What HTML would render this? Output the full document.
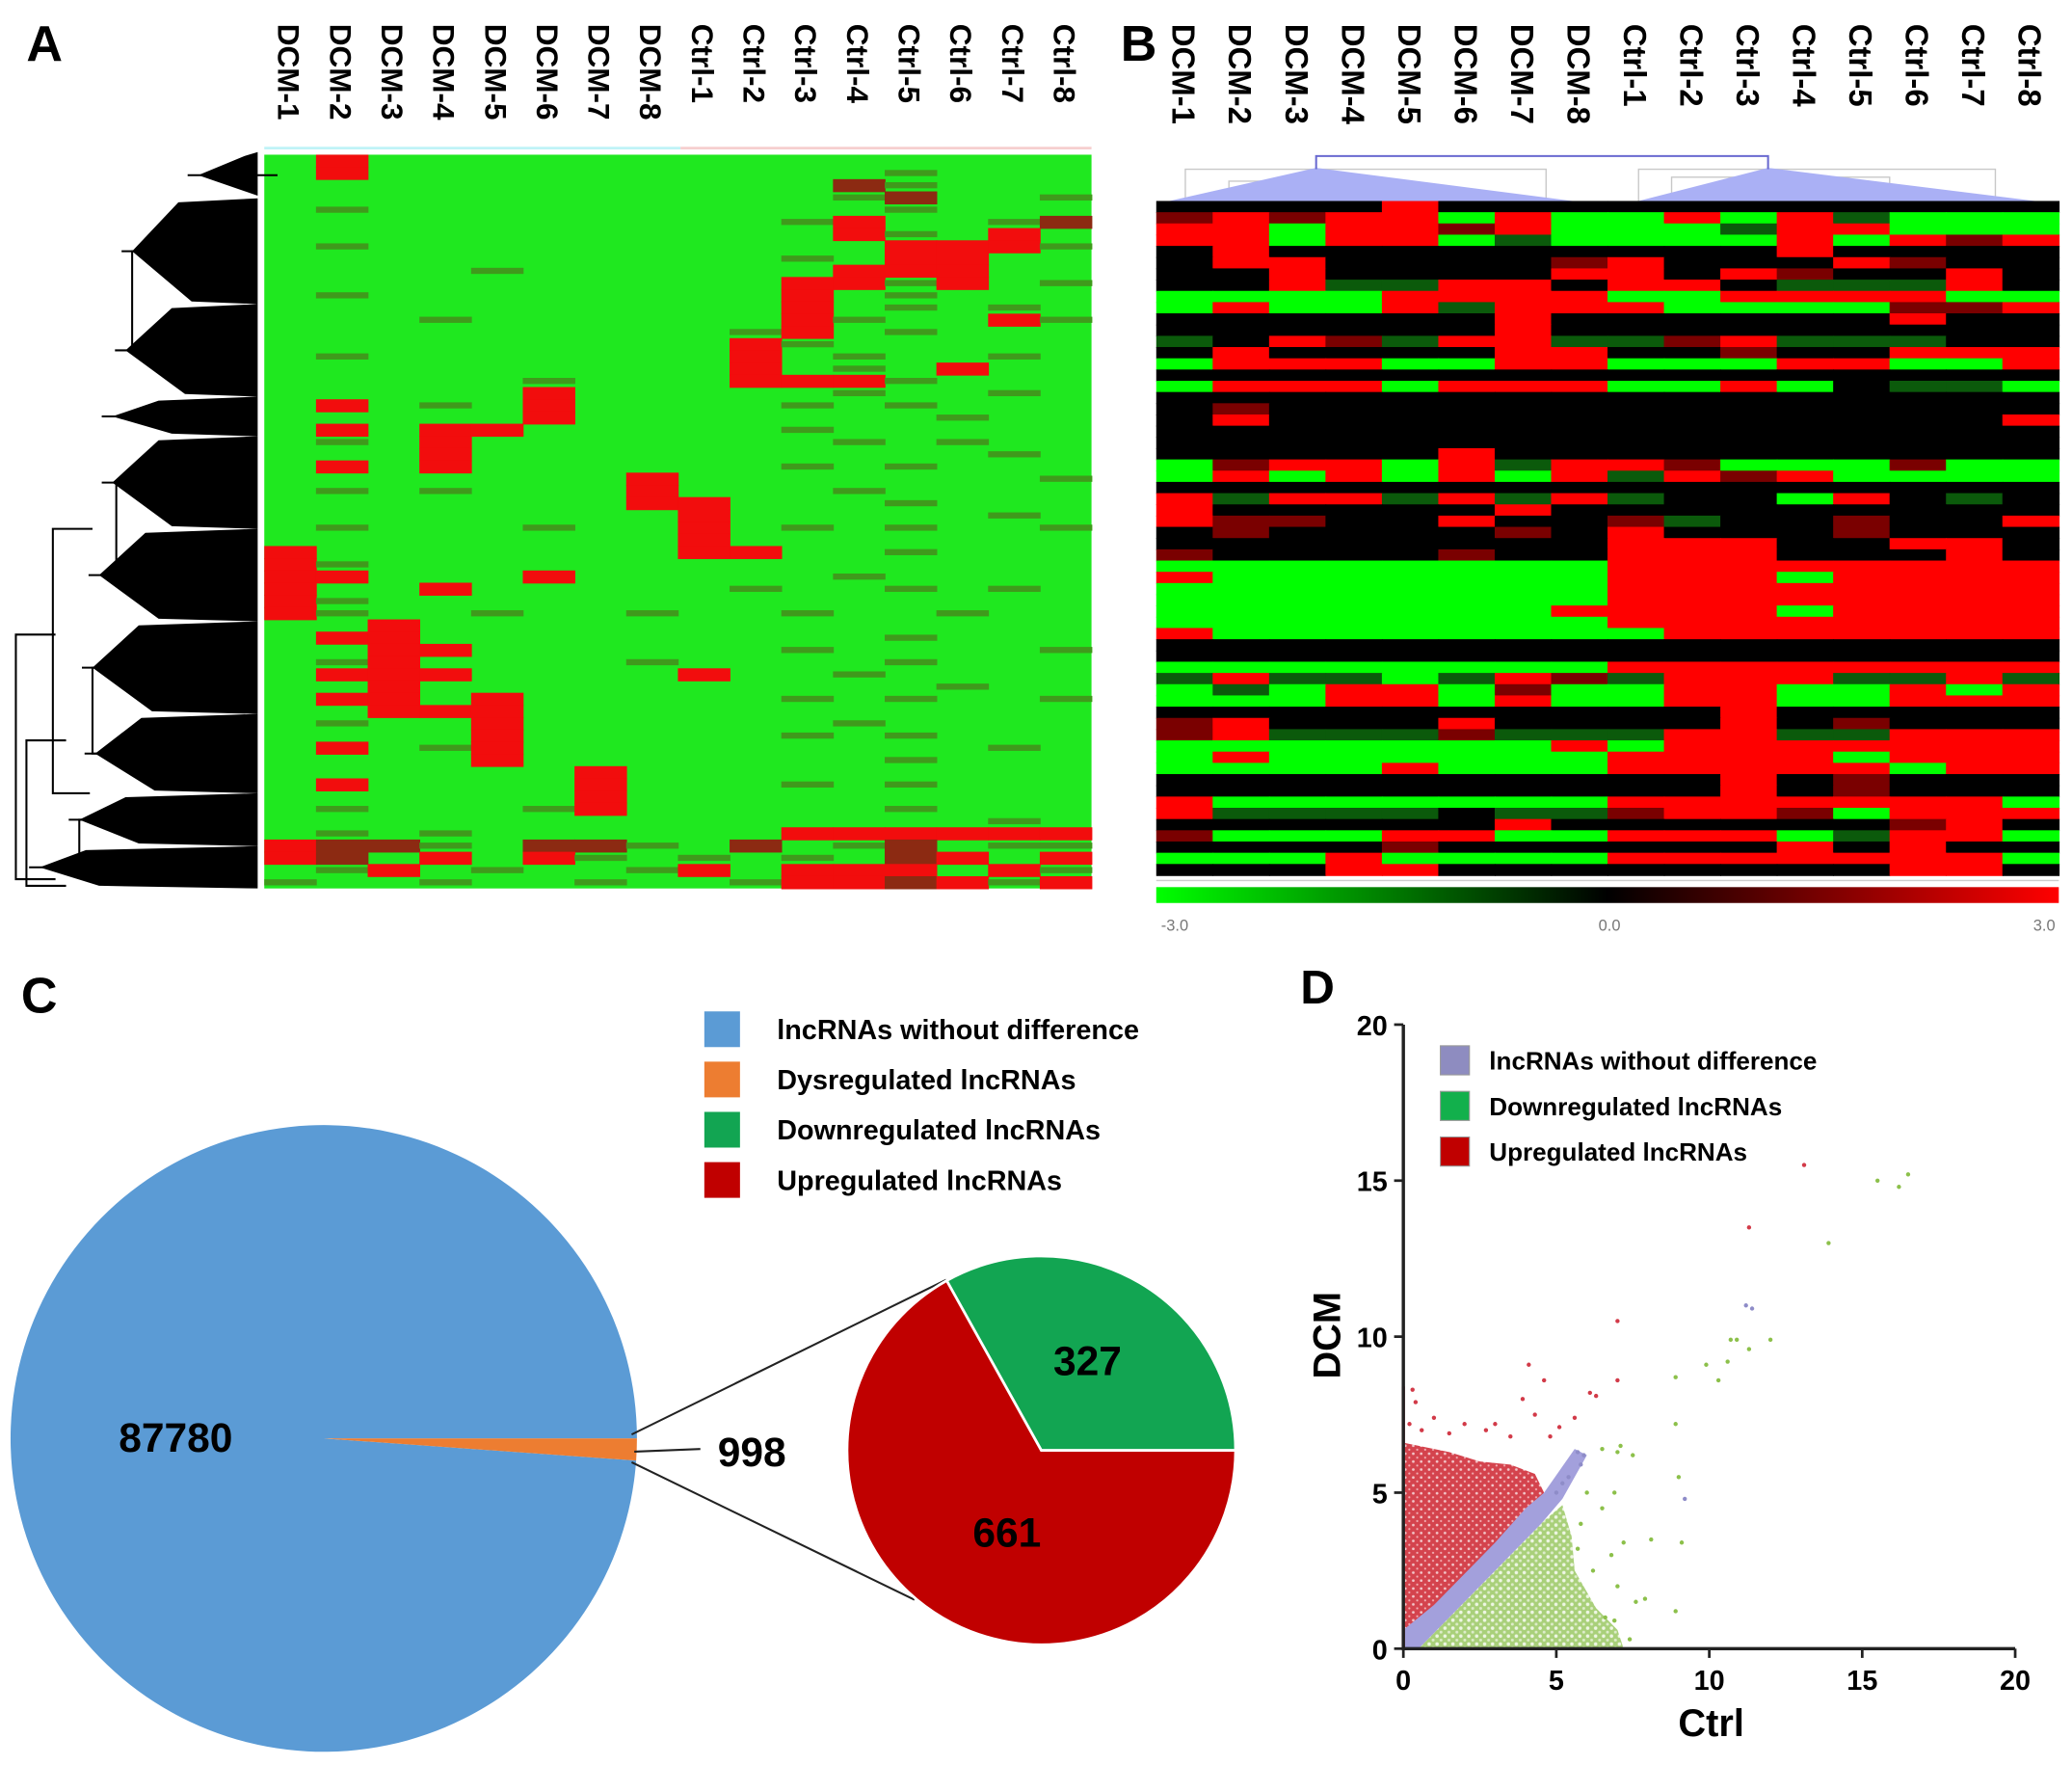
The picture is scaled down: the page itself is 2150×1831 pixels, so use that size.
<!DOCTYPE html>
<html><head><meta charset="utf-8">
<style>
html,body{margin:0;padding:0;background:#fff;}
svg{display:block;}
text{font-family:"Liberation Sans",Arial,sans-serif;}
.n{font-family:"Liberation Sans Narrow","Liberation Sans",sans-serif;font-weight:bold;}
</style></head>
<body>
<svg id="fig" xmlns="http://www.w3.org/2000/svg" width="2150" height="1831" viewBox="0 0 1568 1335" preserveAspectRatio="none">
<defs>
<linearGradient id="cbar" x1="0" x2="1" y1="0" y2="0">
<stop offset="0" stop-color="#00ff00"/><stop offset="0.5" stop-color="#000"/><stop offset="1" stop-color="#ff0000"/>
</linearGradient>
<pattern id="redDots" width="6" height="6" patternUnits="userSpaceOnUse">
<rect width="6" height="6" fill="#d4434d"/><circle cx="1.5" cy="1.5" r="1" fill="#fff" opacity="0.7"/><circle cx="4.5" cy="4.5" r="0.8" fill="#f2b0b5"/>
</pattern>
<pattern id="greenDots" width="6" height="6" patternUnits="userSpaceOnUse">
<rect width="6" height="6" fill="#a9d07a"/><circle cx="1.5" cy="1.5" r="1.3" fill="#fff" opacity="0.8"/><circle cx="4.5" cy="4.5" r="1.1" fill="#fff" opacity="0.6"/>
</pattern>
</defs>
<g id="panelA"></g>
<g id="panelB"></g>
<g id="panelC"></g>
<g id="panelD"></g>
</svg>
<script>
const NS="http://www.w3.org/2000/svg";
function mk(tag,attrs,parent,txt){const e=document.createElementNS(NS,tag);for(const k in attrs)e.setAttribute(k,attrs[k]);if(txt!==undefined)e.textContent=txt;parent.appendChild(e);return e;}

// ---------- data ----------
const sampleLabels=["DCM-1","DCM-2","DCM-3","DCM-4","DCM-5","DCM-6","DCM-7","DCM-8","Ctrl-1","Ctrl-2","Ctrl-3","Ctrl-4","Ctrl-5","Ctrl-6","Ctrl-7","Ctrl-8"];
const heatA=[
"GRGGGGGGGGGGGGGG","GRGGGGGGGGGGdGGG","GGGGGGGGGGGrdGGG","GGGGGGGGGGGdrGGd","GdGGGGGGGGGGdGGG",
"GGGGGGGGGGdRGGdr","GGGGGGGGGGGRdGRG","GdGGGGGGGGGGRRRd","GGGGGGGGGGdGRRGG","GGGGdGGGGGGRRRGG",
"GGGGGGGGGGRRdRGd","GdGGGGGGGGRGdGGG","GGGGGGGGGGRGdGdG","GGGdGGGGGGRdGGRd","GGGGGGGGGdRGdGGG",
"GGGGGGGGGRdGGGGG","GdGGGGGGGRGdGGdG","GGGGGGGGGRGdGRGG","GGGGGdGGGRRRdGGG","GGGGGRGGGGGdGGdG",
"GRGdGRGGGGdGdGGG","GGGGGRGGGGGGGdGG","GRGRRGGGGGdGGGGG","GdGRGGGGGGGdGdGG","GGGRGGGGGGGGGGdG",
"GRGRGGGGGGdGdGGG","GGGGGGGRGGGGGGGd","GdGdGGGRGGGdGGGG","GGGGGGGRRGGGdGGG","GGGGGGGGRGGGGGdG",
"GdGGGdGGRGdGdGGd","GGGGGGGGRGGGGGGG","RGGGGGGGRRGGdGGG","RdGGGGGGGGGGGGGG","RRGGGRGGGGGdGGGG",
"RGGRGGGGGdGGdGdG","RdGGGGGGGGGGGGGG","RdGGdGGdGGdGGdGG","GGRGGGGGGGGGGGGG","GRRGGGGGGGGGdGGG",
"GGRRGGGGGGdGGGGd","GdRGGGGdGGGGdGGG","GRRRGGGGRGGdGGGG","GGRGGGGGGGGGGdGG","GRRGRGGGGGdGdGGd",
"GGRRRGGGGGGGGGGG","GdGGRGGGGGGdGGGG","GGGGRGGGGGdGdGGG","GRGdRGGGGGGGGGdG","GGGGRGGGGGGGdGGG",
"GGGGGGRGGGGGGGGG","GRGGGGRGGGdGdGGG","GGGGGGRGGGGGGGGG","GdGGGdRGGGGGdGGG","GGGGGGGGGGGGGGdG",
"GdGdGGGGGGRRRRRR","RrrdGrrdGrGdrGdd","RrGRGRdGdGdGrRGR","GdRGdGGdRGRRRGRd","dGGdGGdGGdRRrRdR"];
const heatB=[
"KKKKRKKKKKKKKKKK","rRrRRGRGGRGRgGGG","RRGRRrRGGGgRRGGG","RRGRRGgGGGGRGRrR","KRKKKKKKKKKRKKKK",
"KRRKKKKrRKKKRrKK","KKRKKKKRRKRrKKRK","KKRggRRKRRKgggRK","GGGGRRRRGGRRRRGG","GRGGRgRRRGGGGrrR",
"KKKKKKRKKKKKKRKK","KKKKKKRKKKKKKKKK","gKRrgRRggrRgggKK","KRKKKKRRKKrKKRRR","GRRRGGRRGGGRRGGR",
"KKKKKKKKKKKKKKKK","GRRRGRRRGGRGKggG","KKKKKKKKKKKKKKKK","KrKKKKKKKKKKKKKK","KRKKKKKKKKKKKKKR",
"KKKKKKKKKKKKKKKK","KKKKKKKKKKKKKKKK","KKKKKRKKKKKKKKKK","GrRRGRgRRrGGGrGG","GRGRGRGRgRrRGGGG",
"KKKKKKKKKKKKKKKK","RgRRgRgRgKKGRKgK","RKKKKKRKKKKKKKKK","RrrKKRKKrgKKrKKR","KrKKKKrKRKKKrKKK",
"KKKKKKKKRRRKKRRK","rKKKKrKKRRRKKKRK","GGGGGGGGRRRRRRRR","RGGGGGGGRRRGRRRR","GGGGGGGGRRRRRRRR",
"GGGGGGGGRRRRRRRR","GGGGGGGRRRRGRRRR","GGGGGGGGRRRRRRRR","RGGGGGGGGRRRRRRR","KKKKKKKKKKKKKKKK",
"KKKKKKKKKKKKKKKK","GGGGGGGGRRRRRRRR","gRggGgRrgRRRggRg","GgGRRGrGGRRGGRGR","GGGRRGRGGRRGGRRR",
"KKKKKKKKKKRKKKKK","rRKKKRKKKKRKrKKK","rRgggrgggRRggRRR","GGGGGGGRGRRRRRRR","GRGGGGGGRRRRGRRR",
"GGGGRGGGRRRRRGRR","KKKKKKKKKKRKrKKK","KKKKKKKKKKRKrKKK","RGGGGGGGRRRRRRRG","RggggKggrRRrGRRR",
"KKKKKKRKKKKKKrRK","rGGGRRGGRRRGgRRG","KKKKrKKKKKKRKRKK","GGGRGGGGRRRRRRRG","KKKRRKKKKKKKKRRK"];
const colorbarTicks=["-3.0","0.0","3.0"];
const pieBigLabels=["87780","998"];
const pieBigValues=[87780,998];
const pieSmallValues=[327,661];
const pieSmallLabels=["327","661"];
const legendC=[" lncRNAs without difference","Dysregulated  lncRNAs","Downregulated lncRNAs","Upregulated lncRNAs"];
const legendD=["lncRNAs without difference","Downregulated lncRNAs","Upregulated lncRNAs"];
const xTicks=[0,5,10,15,20];
const yTicks=[0,5,10,15,20];
const upCloud=[[0,0.6],[0,6.6],[0.5,6.5],[1.5,6.3],[2.5,6.0],[3.5,5.9],[4.3,5.6],[4.6,5.0],[4.0,4.3],[3.0,3.3],[2.0,2.3],[1.0,1.3],[0.3,0.6]];
const nsBand=[[0,0],[0.5,0],[2.5,2.0],[4.5,4.0],[5.2,4.8],[6.0,6.2],[5.6,6.4],[4.6,5.0],[4.0,4.5],[3.0,3.4],[2.0,2.4],[1.0,1.4],[0,0.6]];
const downCloud=[[0.5,0],[7.2,0],[7.0,0.6],[6.3,1.3],[5.6,2.5],[5.5,3.6],[5.2,4.6],[4.6,4.1],[3.5,3.0],[2.5,2.0],[1.5,1.0]];
const upX=[13.1,11.3,7.0,7.0,4.6,4.1,3.9,0.3,0.4,6.1,6.3,5.1,5.6,4.3,3.0,1.0,2.0,1.5,2.7,3.5,0.2,0.6,4.8];
const upY=[15.5,13.5,10.5,8.6,8.6,9.1,8.0,8.3,7.9,8.2,8.1,7.1,7.4,7.5,7.2,7.4,7.2,6.9,7.0,6.8,7.2,7.0,6.8];
const downX=[15.5,16.2,16.5,13.9,11.3,12.0,10.7,10.9,10.6,9.9,10.3,8.9,8.9,9.0,9.1,8.1,7.6,7.9,8.9,7.0,7.2,6.9,7.0,7.1,7.5,6.5,6.8,6.9,7.4,6.5,6.2,5.8,6.0,5.7,6.6];
const downY=[15.0,14.8,15.2,13.0,9.6,9.9,9.9,9.9,9.2,9.1,8.6,8.7,7.2,5.5,3.4,3.5,1.5,1.6,1.2,2.0,3.4,5.0,6.3,6.5,6.2,6.4,3.0,0.9,0.3,4.5,2.5,4.0,5.0,3.2,1.0];
const nsX=[11.2,11.4,9.2,5.7,5.9,5.8,5.2,5.4,5.0];
const nsY=[11.0,10.9,4.8,6.3,6.2,5.9,5.3,5.5,5.0];

// ---------- Panel A ----------
const A=document.getElementById('panelA');
const cA={G:"#1fe81f",d:"#3f9a1c",R:"#f20d0d",r:"#8c2a12"};
const ax0=200,ax1=826,ay0=117,ay1=672;
const aw=(ax1-ax0)/16, ah=(ay1-ay0)/heatA.length;
let t=mk('text',{x:20,y:46,'font-size':38,'font-weight':'bold'},A,"A");


const bg=mk('rect',{x:ax0,y:ay0,width:ax1-ax0,height:ay1-ay0,fill:cA.G},A);


heatA.forEach((row,i)=>{[...row].forEach((ch,j)=>{
 if(ch==='G')return;
 const r=mk('rect',{x:ax0+j*aw,y:ay0+i*ah+(ch==='d'?ah*0.25:0),width:aw+0.6,height:(ch==='d'?ah*0.5:ah+0.6),fill:cA[ch]},A);
 
 
});});
sampleLabels.forEach((s,j)=>{
 const x=ax0+j*aw+aw/2-9;
 const tx=mk('text',{x:0,y:0,'font-size':23,'font-weight':'bold',transform:`translate(${x},18) rotate(90)`},A,s);
 
 
});
let l=mk('line',{x1:200,y1:112,x2:515,y2:112,stroke:'#bff3f7','stroke-width':2},A);


l=mk('line',{x1:515,y1:112,x2:826,y2:112,stroke:'#f6cfcf','stroke-width':2},A);


const dg=mk('g',{},A);


const fans=[[115,150,150],[150,230,100],[230,300,95],[300,330,85],[330,400,85],[400,470,75],[470,540,70],[540,600,72],[600,640,60],[640,672,30]];
fans.forEach(f=>{
 const m=(f[0]+f[1])/2;
 mk('polygon',{points:`${f[2]},${m} ${f[2]+35},${f[0]+3} 195,${f[0]} 195,${f[1]} ${f[2]+45},${f[1]-2}`,fill:'#000'},dg);
 mk('path',{d:`M${f[2]-8},${m} H${f[2]+60}`,stroke:'#000','stroke-width':1.5},dg);
});
const br=[[100,190,95,265],[88,365,82,435],[70,505,68,570],[60,620,28,656],[40,400,38,600],[12,480,12,665],[20,560,20,670]];
br.forEach(b=>{mk('path',{d:`M${b[0]+30},${b[1]} H${b[0]} V${b[3]} H${b[2]+30}`,fill:'none',stroke:'#000','stroke-width':1.5},dg);});

// ---------- Panel B ----------
const B=document.getElementById('panelB');
const cB={G:"#00ff00",g:"#0b5a0b",K:"#000000",R:"#ff0000",r:"#7a0000"};
const bx0=875,bx1=1558,by0=152,by1=662;
const bw=(bx1-bx0)/16, bh=(by1-by0)/heatB.length;
t=mk('text',{x:848,y:46,'font-size':38,'font-weight':'bold'},B,"B");


heatB.forEach((row,i)=>{[...row].forEach((ch,j)=>{
 const r=mk('rect',{x:bx0+j*bw,y:by0+i*bh,width:bw+0.6,height:bh+0.6,fill:cB[ch]},B);
 
 
});});
sampleLabels.forEach((s,j)=>{
 const x=bx0+j*bw+bw/2-9;
 const tx=mk('text',{x:0,y:0,'font-size':24,'font-weight':'bold',transform:`translate(${x},18) rotate(90)`},B,s);
 
 
});
const bd=mk('g',{},B);


mk('path',{d:'M897,152 V128 H1170 V150 M1240,152 V128 H1510 V152 M930,150 V137 H1050 V150 M1265,150 V134 H1430 V152',fill:'none',stroke:'#c8c8c8','stroke-width':1},bd);
mk('polygon',{points:'885,152 996,127 1190,152',fill:'#aab0f5'},bd);
mk('polygon',{points:'1240,152 1338,127 1540,152',fill:'#aab0f5'},bd);
mk('path',{d:'M996,128 V118 H1338 V128',fill:'none',stroke:'#6a6ad0','stroke-width':1.5},bd);
let cb=mk('rect',{x:875,y:671,width:683,height:12,fill:'url(#cbar)'},B);


mk('line',{x1:875,y1:666,x2:1558,y2:666,stroke:'#ccc','stroke-width':1},B);
colorbarTicks.forEach((s,i)=>{
 const tx=mk('text',{x:889+i*329,y:704,'font-size':12,fill:'#777','text-anchor':'middle','font-family':'Liberation Mono, monospace'},B,s);
 
 
});

// ---------- Panel C ----------
const C=document.getElementById('panelC');
t=mk('text',{x:16,y:766,'font-size':38,'font-weight':'bold'},C,"C");


const cols=["#5b9bd5","#ed7d31","#12a552","#c00000"];
legendC.forEach((s,i)=>{
 const y=765+i*38;
 const r=mk('rect',{x:533,y:y,width:27,height:27,fill:cols[i]},C);
 
 
 const tx=mk('text',{x:588,y:y+21,'font-size':21,'class':'n','xml:space':'preserve'},C,s);
 
 
});
function arc(cx,cy,r,a0,a1,fill,parent){
 const p0=[cx+r*Math.cos(a0),cy+r*Math.sin(a0)],p1=[cx+r*Math.cos(a1),cy+r*Math.sin(a1)];
 const large=(a1-a0)>Math.PI?1:0;
 return mk('path',{d:`M${cx},${cy} L${p0[0]},${p0[1]} A${r},${r} 0 ${large} 1 ${p1[0]},${p1[1]} Z`,fill:fill},parent);
}
const bigTot=pieBigValues[0]+pieBigValues[1];
const sl=pieBigValues[1]/bigTot*2*Math.PI;
const a0=0.0;
let p=arc(245,1088,237,a0+sl,a0+2*Math.PI,cols[0],C);


p=arc(245,1088,237,a0,a0+sl,cols[1],C);


t=mk('text',{x:133,y:1098,'font-size':31,'class':'n','text-anchor':'middle'},C,pieBigLabels[0]);


t=mk('text',{x:569,y:1109,'font-size':31,'class':'n','text-anchor':'middle'},C,pieBigLabels[1]);


mk('line',{x1:480,y1:1098,x2:530,y2:1096,stroke:'#222','stroke-width':1.5},C);
mk('line',{x1:478,y1:1085,x2:716,y2:968,stroke:'#222','stroke-width':1.5},C);
mk('line',{x1:478,y1:1106,x2:692,y2:1210,stroke:'#222','stroke-width':1.5},C);
const smTot=pieSmallValues[0]+pieSmallValues[1];
const gA=pieSmallValues[0]/smTot*2*Math.PI;
p=arc(788,1097,147,-gA,0,cols[2],C);


p.setAttribute('stroke','#fff');p.setAttribute('stroke-width','2');
p=arc(788,1097,147,0,2*Math.PI-gA,cols[3],C);


p.setAttribute('stroke','#fff');p.setAttribute('stroke-width','2');
t=mk('text',{x:823,y:1040,'font-size':31,'class':'n','text-anchor':'middle'},C,pieSmallLabels[0]);


t=mk('text',{x:762,y:1170,'font-size':31,'class':'n','text-anchor':'middle'},C,pieSmallLabels[1]);



// ---------- Panel D ----------
const D=document.getElementById('panelD');
const X0=1062,X1=1525,Y0=1247,Y1=775;
const sx=v=>X0+v/20*(X1-X0), sy=v=>Y0-v/20*(Y0-Y1);
t=mk('text',{x:984,y:759,'font-size':36,'font-weight':'bold'},D,"D");


function region(pts,fill,name){
 const e=mk('polygon',{points:pts.map(q=>sx(q[0])+','+sy(q[1])).join(' '),fill:fill},D);
 
 
}
region(downCloud,'url(#greenDots)','downregulated-cloud');
region(upCloud,'url(#redDots)','upregulated-cloud');
region(nsBand,'#a3a0dc','no-difference-band');
function pts(xs,ys,fill,name){xs.forEach((v,i)=>{
 const c=mk('circle',{cx:sx(v),cy:sy(ys[i]),r:1.6,fill:fill},D);
 
 
});}
pts(upX,upY,'#d23a48','upregulated-point');
pts(downX,downY,'#8cc04a','downregulated-point');
pts(nsX,nsY,'#8e8cc8','no-difference-point');
mk('line',{x1:sx(0),y1:sy(0),x2:sx(0),y2:sy(8.4),stroke:'#d23a48','stroke-width':2.5},D);
const axes=mk('path',{d:`M${X0},${Y1} V${Y0} H${X1}`,fill:'none',stroke:'#222','stroke-width':2.5},D);


xTicks.forEach(v=>{
 mk('line',{x1:sx(v),y1:Y0,x2:sx(v),y2:Y0+7,stroke:'#222','stroke-width':2},D);
 const tx=mk('text',{x:sx(v),y:Y0+31,'font-size':21,'font-weight':'bold','text-anchor':'middle'},D,String(v));
 
 
});
yTicks.forEach(v=>{
 mk('line',{x1:X0-7,y1:sy(v),x2:X0,y2:sy(v),stroke:'#222','stroke-width':2},D);
 const tx=mk('text',{x:X0-12,y:sy(v)+8,'font-size':21,'font-weight':'bold','text-anchor':'end'},D,String(v));
 
 
});
t=mk('text',{x:0,y:0,'font-size':29,'font-weight':'bold','text-anchor':'middle',transform:`translate(1014,1010) rotate(-90)`},D,"DCM");


t=mk('text',{x:1295,y:1313,'font-size':29,'font-weight':'bold','text-anchor':'middle'},D,"Ctrl");


const dcol=["#8e8cc0","#12b04c","#c00000"];
legendD.forEach((s,i)=>{
 const y=791+i*34.5;
 const r=mk('rect',{x:1090,y:y,width:22,height:22,fill:dcol[i],stroke:'#999','stroke-width':0.8},D);
 
 
 const tx=mk('text',{x:1127,y:y+18,'font-size':19,'font-weight':'bold'},D,s);
 
 
});
</script>
</body></html>
